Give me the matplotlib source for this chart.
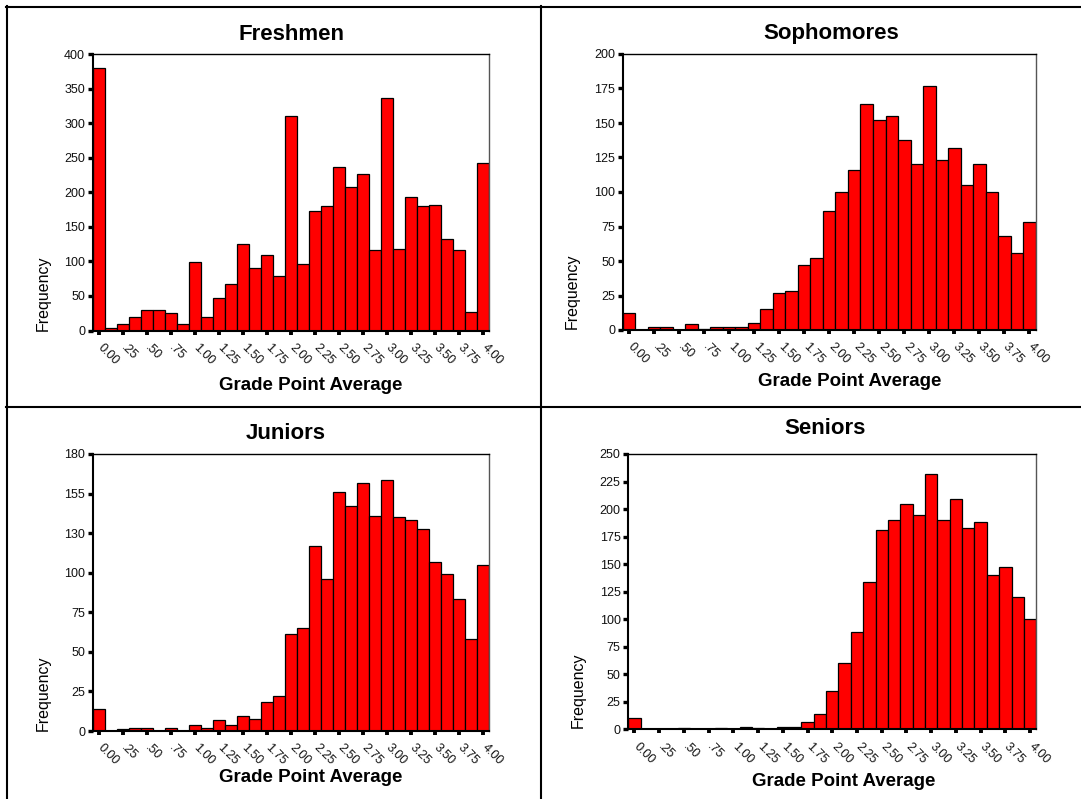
import matplotlib
matplotlib.use("Agg")
import matplotlib.pyplot as plt
import matplotlib.transforms as mtransforms
from matplotlib.lines import Line2D

plt.rcParams['font.family'] = ['Liberation Sans', 'DejaVu Sans']

# bin centres (GPA) shared by all four histograms
bin_centers = [0.000, 0.125, 0.250, 0.375, 0.500, 0.625, 0.750, 0.875,
               1.000, 1.125, 1.250, 1.375, 1.500, 1.625, 1.750, 1.875,
               2.000, 2.125, 2.250, 2.375, 2.500, 2.625, 2.750, 2.875,
               3.000, 3.125, 3.250, 3.375, 3.500, 3.625, 3.750, 3.875, 4.000]

freshmen = [380, 3, 9, 20, 30, 30, 26, 9, 99, 20, 47, 67, 125, 91, 109, 79,
            311, 96, 173, 180, 236, 208, 227, 116, 337, 118, 193, 180, 182,
            133, 116, 27, 242]
sophomores = [12, 0, 2, 2, 0, 4, 1, 2, 2, 2, 5, 15, 27, 28, 47, 52,
              86, 100, 116, 164, 152, 155, 138, 120, 177, 123, 132, 105,
              120, 100, 68, 56, 78]
juniors = [14, 0, 1, 2, 2, 0, 2, 0, 4, 2, 7, 4, 10, 8, 19, 23,
           63, 67, 120, 99, 155, 146, 161, 140, 163, 139, 137, 131,
           110, 102, 86, 60, 108]
seniors = [10, 0, 0, 0, 1, 0, 0, 1, 0, 2, 1, 0, 2, 2, 7, 14,
           35, 60, 88, 134, 181, 190, 205, 195, 232, 190, 209, 183,
           188, 140, 147, 120, 100]

x_tick_values = [0.00, 0.25, 0.50, 0.75, 1.00, 1.25, 1.50, 1.75, 2.00,
                 2.25, 2.50, 2.75, 3.00, 3.25, 3.50, 3.75, 4.00]
x_tick_labels = ["0.00", ".25", ".50", ".75", "1.00", "1.25", "1.50", "1.75",
                 "2.00", "2.25", "2.50", "2.75", "3.00", "3.25", "3.50",
                 "3.75", "4.00"]

fresh_yticks = [0, 50, 100, 150, 200, 250, 300, 350, 400]
fresh_ylabels = ["0", "50", "100", "150", "200", "250", "300", "350", "400"]
soph_yticks = [0, 25, 50, 75, 100, 125, 150, 175, 200]
soph_ylabels = ["0", "25", "50", "75", "100", "125", "150", "175", "200"]
jun_yticks = [0, 180 / 7, 360 / 7, 540 / 7, 720 / 7, 900 / 7, 1080 / 7, 180]
jun_ylabels = ["0", "25", "50", "75", "100", "130", "155", "180"]
sen_yticks = [0, 25, 50, 75, 100, 125, 150, 175, 200, 225, 250]
sen_ylabels = ["0", "25", "50", "75", "100", "125", "150", "175", "200",
               "225", "250"]

titles = ["Freshmen", "Sophomores", "Juniors", "Seniors"]

W, H = 1081, 799
fig = plt.figure(figsize=(W / 100, H / 100), dpi=100)


def px_axes(x0, x1, y0, y1):
    return fig.add_axes([x0 / W, (H - y1) / H, (x1 - x0) / W, (y1 - y0) / H])


panels = [
    dict(box=(92.7, 488.7, 54, 330.5), vals=freshmen, ymax=400,
         yt=fresh_yticks, yl=fresh_ylabels,
         title=(292, 34), xlab=(311, 385), ylab=(43, 293)),
    dict(box=(622.7, 1035.7, 54, 330), vals=sophomores, ymax=200,
         yt=soph_yticks, yl=soph_ylabels,
         title=(831, 33), xlab=(850, 381), ylab=(572, 291)),
    dict(box=(92.7, 488.7, 454, 731), vals=juniors, ymax=180,
         yt=jun_yticks, yl=jun_ylabels,
         title=(286, 433), xlab=(311, 778), ylab=(43, 693)),
    dict(box=(628.3, 1036.3, 454, 729.3), vals=seniors, ymax=250,
         yt=sen_yticks, yl=sen_ylabels,
         title=(825, 428), xlab=(844, 782), ylab=(578, 690)),
]

offset = mtransforms.ScaledTranslation(0.05, 0.0, fig.dpi_scale_trans)

for p, title in zip(panels, titles):
    ax = px_axes(*p['box'])
    ax.bar(bin_centers, p['vals'], width=0.125, color='#ff0000',
           edgecolor='black', linewidth=0.9, align='center', zorder=2)
    ax.set_xlim(-0.0625, 4.0625)
    ax.set_ylim(0, p['ymax'])
    ax.set_yticks(p['yt'])
    ax.set_yticklabels(p['yl'], fontsize=9, color='#111111')
    ax.set_xticks(x_tick_values)
    ax.set_xticklabels(x_tick_labels, fontsize=9, rotation=-45,
                       ha='left', va='top', rotation_mode='anchor',
                       color='#111111')
    ax.tick_params(axis='y', direction='out', length=3.5, width=2.4,
                   pad=2, color='black')
    ax.tick_params(axis='x', direction='out', length=3.0, width=2.8,
                   pad=5, color='black')
    for lbl in ax.get_xticklabels():
        lbl.set_transform(lbl.get_transform() + offset)
    for s in ['left', 'bottom']:
        ax.spines[s].set_linewidth(1.5)
        ax.spines[s].set_color('black')
    ax.spines['top'].set_linewidth(1.0)
    ax.spines['top'].set_color('black')
    ax.spines['right'].set_linewidth(1.0)
    ax.spines['right'].set_color('#555555')
    tx, ty = p['title']
    fig.text(tx / W, 1 - ty / H, title, fontsize=16, fontweight='bold',
             ha='center', va='center')
    xx, xy = p['xlab']
    fig.text(xx / W, 1 - xy / H, "Grade Point Average", fontsize=13.5,
             fontweight='bold', ha='center', va='center')
    yx, yy = p['ylab']
    fig.text(yx / W, 1 - yy / H, "Frequency", fontsize=11.5,
             rotation=90, ha='center', va='center')


# table grid lines
def hline(y, x0, x1):
    fig.add_artist(Line2D([x0 / W, x1 / W], [1 - y / H, 1 - y / H],
                          color='black', linewidth=1.5,
                          transform=fig.transFigure))


def vline(x, y0, y1):
    fig.add_artist(Line2D([x / W, x / W], [1 - y0 / H, 1 - y1 / H],
                          color='black', linewidth=1.5,
                          transform=fig.transFigure))


hline(6.5, 6, W)
hline(406.5, 6, W)
vline(6.5, 6, H)
vline(541, 6, H)

fig.savefig("out.png", dpi=100)
